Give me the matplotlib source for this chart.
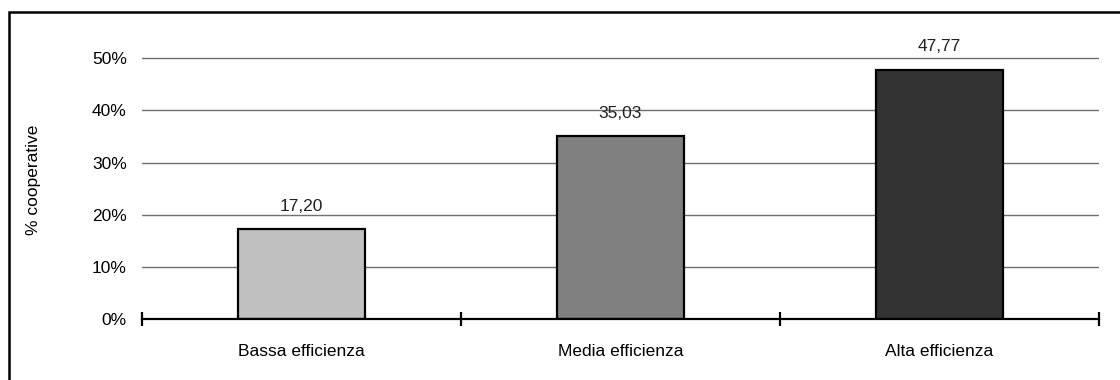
import matplotlib
matplotlib.use("Agg")
import matplotlib.pyplot as plt
from matplotlib.patches import Rectangle

categories = ["Bassa efficienza", "Media efficienza", "Alta efficienza"]
values = [17.20, 35.03, 47.77]
labels = ["17,20", "35,03", "47,77"]
colors = ["#c0c0c0", "#808080", "#333333"]
yticks = [0, 10, 20, 30, 40, 50]
ytick_labels = ["0%", "10%", "20%", "30%", "40%", "50%"]

plt.rcParams['font.family'] = ['Liberation Sans', 'DejaVu Sans']
FS = 12.5

W, H = 1120, 380
fig = plt.figure(figsize=(W/100, H/100), dpi=100)
ax = fig.add_axes([142/W, 1-319/H, (1099-142)/W, (319-40)/H])

x = list(range(len(categories)))
ax.bar(x, values, width=0.4, color=colors, edgecolor="black", linewidth=1.6, zorder=3)
for xi, v, lab in zip(x, values, labels):
    ax.text(xi, v + 3.0, lab, ha="center", va="bottom", fontsize=FS, color="#222222")

ax.set_xlim(-0.5, 2.5)
ax.set_ylim(0, 53.5)
ax.set_yticks(yticks)
ax.set_yticklabels(ytick_labels, fontsize=FS)
ax.tick_params(axis="y", length=0, pad=11)
for t in yticks[1:]:
    ax.axhline(t, color="#707070", linewidth=1.0, zorder=1)

ax.set_xticks(x)
ax.set_xticklabels(categories, fontsize=FS)
ax.tick_params(axis="x", which="major", length=0, pad=18)
ax.set_xticks([-0.5, 0.5, 1.5, 2.5], minor=True)
ax.tick_params(axis="x", which="minor", length=10, width=1.6, direction="inout", color="black")

for s in ["top", "right", "left"]:
    ax.spines[s].set_visible(False)
ax.spines["bottom"].set_linewidth(1.6)
ax.spines["bottom"].set_zorder(4)

ax.set_ylabel("% cooperative", fontsize=FS)
ax.yaxis.set_label_coords(-(142-41)/(1099-142), 0.5)

fig.patches.append(Rectangle((9/W, -0.1), 1.2, 1 - 12/H + 0.1, transform=fig.transFigure,
                             fill=False, edgecolor="black", linewidth=1.8))

fig.savefig("out.png", dpi=100)
